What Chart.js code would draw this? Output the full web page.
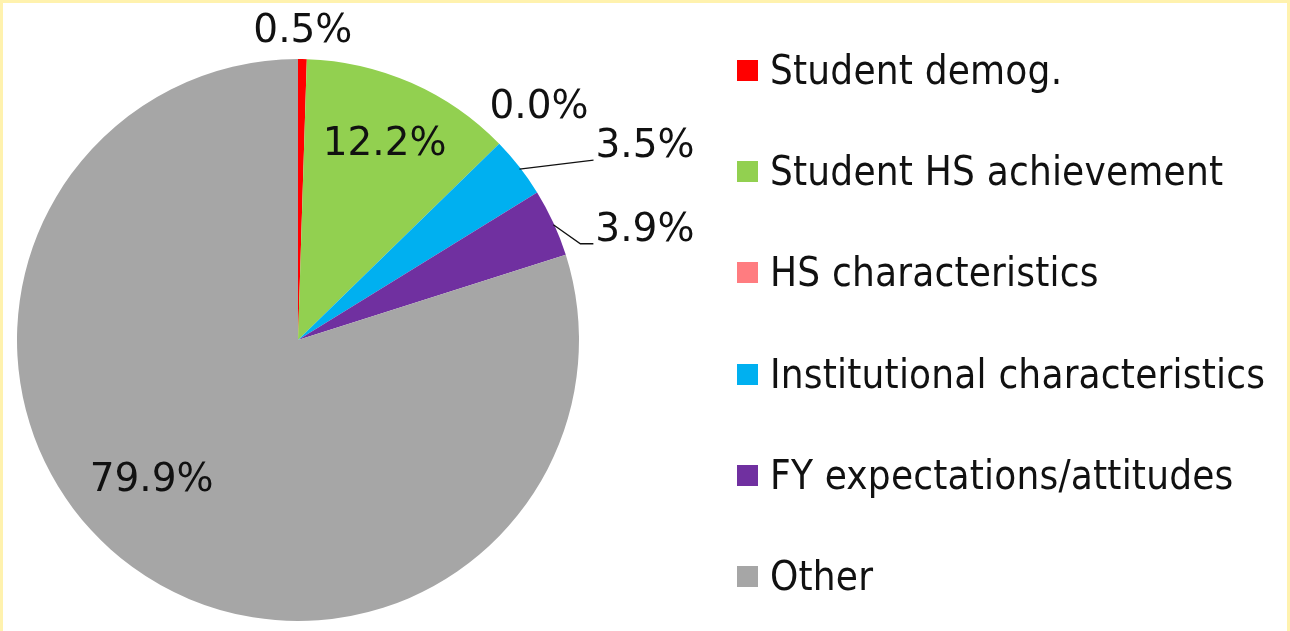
<!DOCTYPE html>
<html>
<head>
<meta charset="utf-8">
<script src="https://cdn.jsdelivr.net/npm/chart.js@4.4.1/dist/chart.umd.min.js"></script>
<style>
    html, body { margin: 0; padding: 0; background: #fff; }
    #frame {
        position: relative;
        width: 1290px;
        height: 631px;
        box-sizing: border-box;
        border-left: 3px solid #fff2ae;
        border-top: 3px solid #fff2ae;
        border-right: 3px solid #fff2ae;
        overflow: hidden;
    }
    #myChart { position: absolute; left: -3px; top: -3px; }
    #legend {
        position: absolute;
        left: 734px;
        top: -3px;
        font-family: "DejaVu Sans Condensed", "DejaVu Sans", sans-serif;
        font-stretch: condensed;
        font-size: 40px;
        color: #111;
    }
    .leg-item { position: absolute; left: 0; white-space: nowrap; height: 44px; line-height: 44px; }
    .leg-box { position: absolute; left: 0; top: 12px; width: 21px; height: 21px; }
    .leg-text { position: absolute; left: 33px; top: 0; letter-spacing: 0.2px; }
</style>
</head>
<body>
<div id="frame">
    <canvas id="myChart" width="1290" height="631"></canvas>
    <div id="legend"></div>
</div>
<script>
const categories = [
    "Student demog.",
    "Student HS achievement",
    "HS characteristics",
    "Institutional characteristics",
    "FY expectations/attitudes",
    "Other"
];
const shares = [0.5, 12.2, 0.0, 3.5, 3.9, 79.9];
const sliceLabels = ["0.5%", "12.2%", "0.0%", "3.5%", "3.9%", "79.9%"];
const sliceColors = ["#ff0000", "#92d050", "#ff7c80", "#00b0f0", "#7030a0", "#a6a6a6"];

// where each percentage sits, relative to its slice
const labelPlacement = [
    { r: 1.103, dx: 0, dy: 2 },
    { r: 0.765, dx: 0, dy: 2 },
    { r: 1.198, dx: 0, dy: 3 },
    { leader: true, dx: 76, dy: -20, elbow: null },
    { leader: true, dx: 42, dy: 8, elbow: -15 },
    { r: 0.75, dx: -22, dy: -29 }
];

const labelPlugin = {
    id: "sliceLabels",
    afterDatasetsDraw(chart) {
        const ctx = chart.ctx;
        const arcs = chart.getDatasetMeta(0).data;
        ctx.save();
        ctx.font = "39px 'DejaVu Sans'";
        ctx.fillStyle = "#111";
        ctx.strokeStyle = "#111";
        ctx.lineWidth = 1.3;
        arcs.forEach(function (arc, i) {
            const p = arc.getProps(["x", "y", "startAngle", "endAngle", "outerRadius"], true);
            const mid = (p.startAngle + p.endAngle) / 2;
            const place = labelPlacement[i];
            if (place.leader) {
                const ex = p.x + Math.cos(mid) * p.outerRadius;
                const ey = p.y + Math.sin(mid) * p.outerRadius;
                const tx = ex + place.dx;
                const ty = ey + place.dy;
                ctx.beginPath();
                ctx.moveTo(ex, ey + 2);
                if (place.elbow !== null) {
                    ctx.lineTo(tx + place.elbow, ty + 13);
                }
                ctx.lineTo(tx - 2, ty + 13);
                ctx.stroke();
                ctx.textAlign = "left";
                ctx.textBaseline = "middle";
                ctx.fillText(sliceLabels[i], tx, ty);
            } else {
                const lx = p.x + Math.cos(mid) * p.outerRadius * place.r + place.dx;
                const ly = p.y + Math.sin(mid) * p.outerRadius * place.r + place.dy;
                ctx.textAlign = "center";
                ctx.textBaseline = "middle";
                ctx.fillText(sliceLabels[i], lx, ly);
            }
        });
        ctx.restore();
    }
};

new Chart("myChart", {
    type: "pie",
    data: {
        labels: categories,
        datasets: [{
            data: shares,
            backgroundColor: sliceColors,
            borderWidth: 0
        }]
    },
    options: {
        responsive: false,
        animation: false,
        layout: {
            padding: { left: 17, top: 59, right: 711, bottom: 10 }
        },
        plugins: {
            legend: { display: false },
            tooltip: { enabled: false }
        }
    },
    plugins: [labelPlugin]
});

function buildLegend() {
    const legend = document.getElementById("legend");
    categories.forEach(function (name, i) {
        const item = document.createElement("div");
        item.className = "leg-item";
        item.style.top = (48 + i * 101.2) + "px";
        const box = document.createElement("div");
        box.className = "leg-box";
        box.style.background = sliceColors[i];
        const text = document.createElement("div");
        text.className = "leg-text";
        text.textContent = name;
        item.appendChild(box);
        item.appendChild(text);
        legend.appendChild(item);
    });
}

buildLegend();
</script>
</body>
</html>
